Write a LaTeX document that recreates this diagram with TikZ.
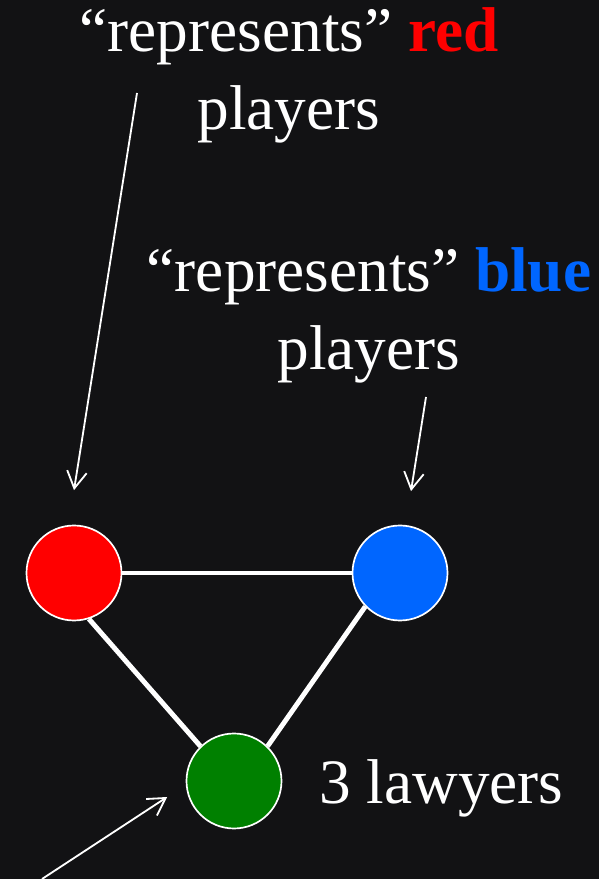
\documentclass[tikz,border=0pt]{standalone}
\usepackage{fontspec}
\setmainfont{Liberation Serif}
\usetikzlibrary{positioning,arrows.meta}

\definecolor{slide}{RGB}{18,18,20}
\definecolor{plred}{RGB}{255,0,0}
\definecolor{plblue}{RGB}{0,102,255}
\definecolor{plgreen}{RGB}{0,128,0}

\begin{document}
\begin{tikzpicture}[
	> = {Straight Barb[length=12pt,width=14pt]}, % open arrow head
	font=\fontsize{45}{55.5}\selectfont,
	player/.style={circle,draw=white,line width=1.2pt,minimum size=2.375cm,inner sep=0pt},
	link/.style={draw=white,line width=3.5pt},
	pointer/.style={->,draw=white,line width=1.3pt},
	words/.style={text=white,align=center,inner sep=0pt}
	]
	
	% dark slide background
	\useasboundingbox (0,0) rectangle (14.975,21.975);
	\fill[slide] (0,0) rectangle (14.975,21.975);
	
	\node[player,fill=plred] (red) at (1.85,7.65) {};
	\node[player,fill=plblue] (blue) [right of=red, node distance=8.15cm] {};
	\node[player,fill=plgreen] (green) at (5.85,2.45) {};
	
	% base = baseline of the last line
	\node[words,anchor=base] (redtxt) at (7.225,18.725) {“represents” \textbf{\color{plred}red}\\players};
	\node[words,anchor=base] (bluetxt) at (9.225,12.725) {“represents” \textbf{\color{plblue}blue}\\players};
	\node[words,anchor=base west] (lawyers) at (7.975,1.875) {3 lawyers};
	
	\path[link]
	(red) edge (blue)
	(red.-72) edge (green.134)
	(blue.-136) edge (green.46);
	
	\coordinate (redtail) at (3.425,19.65);
	\coordinate (bluetail) at (10.65,12.05);
	\coordinate (greentail) at (1.05,0);
	
	\draw[pointer] (redtail) -- ([yshift=0.8625cm]red.north);
	\draw[pointer] (bluetail) -- ([xshift=0.275cm,yshift=0.8375cm]blue.north);
	\draw[pointer] (greentail) -- ([xshift=-0.4625cm,yshift=-0.4cm]green.west);
	
\end{tikzpicture}
\end{document}
